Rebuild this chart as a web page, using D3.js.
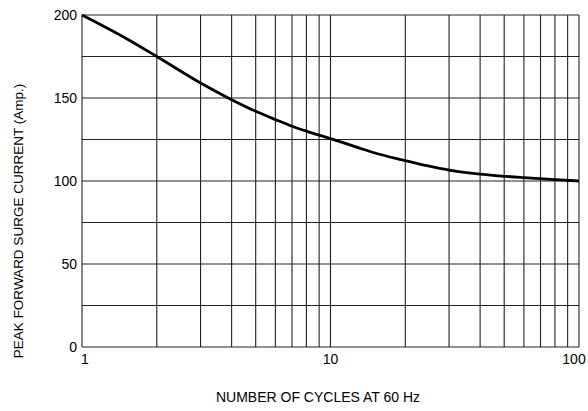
<!DOCTYPE html>
<html>
<head>
<meta charset="utf-8">
<script src="https://cdn.jsdelivr.net/npm/d3@7"></script>
<style>
  body { margin: 0; background: #fff; }
  text { font-family: "Liberation Sans", Arial, sans-serif; fill: #000; }
</style>
</head>
<body>
<div id="chart"></div>
<script>
// curve
const cycles  = [1, 1.5, 2, 3, 4, 5, 6, 7, 8, 10, 13, 15, 19, 30, 40, 60, 80, 100];
const current = [200, 186, 175, 159, 149, 142, 137, 133, 130, 125.5, 120, 117, 113, 106.6, 104.2, 102, 100.8, 100];

const xGrid = [1,2,3,4,5,6,7,8,9,10,20,30,40,50,60,70,80,90,100];
const yGrid = [0,25,50,75,100,125,150,175,200];
const xTicks = [1, 10, 100];
const yTicks = [0, 50, 100, 150, 200];

const width = 588, height = 411;
const plot = {left: 82, right: 579, top: 15, bottom: 347};

const svg = d3.select("#chart").append("svg")
    .attr("width", width)
    .attr("height", height);

const x = d3.scaleLog().domain([1, 100]).range([plot.left, plot.right]);
const y = d3.scaleLinear().domain([0, 200]).range([plot.bottom, plot.top]);

// grid
svg.append("g").selectAll("line").data(xGrid).join("line")
    .attr("x1", d => x(d)).attr("x2", d => x(d))
    .attr("y1", plot.top).attr("y2", plot.bottom)
    .attr("stroke", "#222").attr("stroke-width", 1.1);

svg.append("g").selectAll("line").data(yGrid).join("line")
    .attr("x1", plot.left).attr("x2", plot.right)
    .attr("y1", d => y(d)).attr("y2", d => y(d))
    .attr("stroke", "#222").attr("stroke-width", 1.1);

// tick labels
svg.append("g").selectAll("text").data(yTicks).join("text")
    .attr("x", plot.left - 5)
    .attr("y", d => y(d))
    .attr("dy", "0.35em")
    .attr("text-anchor", "end")
    .style("font-size", "14px")
    .text(d => d);

svg.append("g").selectAll("text").data(xTicks).join("text")
    .attr("x", (d, i) => x(d) + (i === 0 ? 3 : (i === 2 ? -5 : 0)))
    .attr("y", plot.bottom + 17)
    .attr("text-anchor", "middle")
    .style("font-size", "14px")
    .text(d => d);

// curve
const pts = cycles.map((c, i) => [c, current[i]]);
svg.append("path")
    .datum(pts)
    .attr("fill", "none")
    .attr("stroke", "#000")
    .attr("stroke-width", 2.8)
    .attr("d", d3.line().x(d => x(d[0])).y(d => y(d[1])).curve(d3.curveMonotoneX));

// axis titles
svg.append("text")
    .attr("x", 318).attr("y", 402)
    .attr("text-anchor", "middle")
    .style("font-size", "14px")
    .text("NUMBER OF CYCLES AT 60 Hz");

svg.append("text")
    .attr("transform", "translate(23,221) rotate(-90)")
    .attr("text-anchor", "middle")
    .style("font-size", "13.5px")
    .text("PEAK FORWARD SURGE CURRENT (Amp.)");
</script>
</body>
</html>
